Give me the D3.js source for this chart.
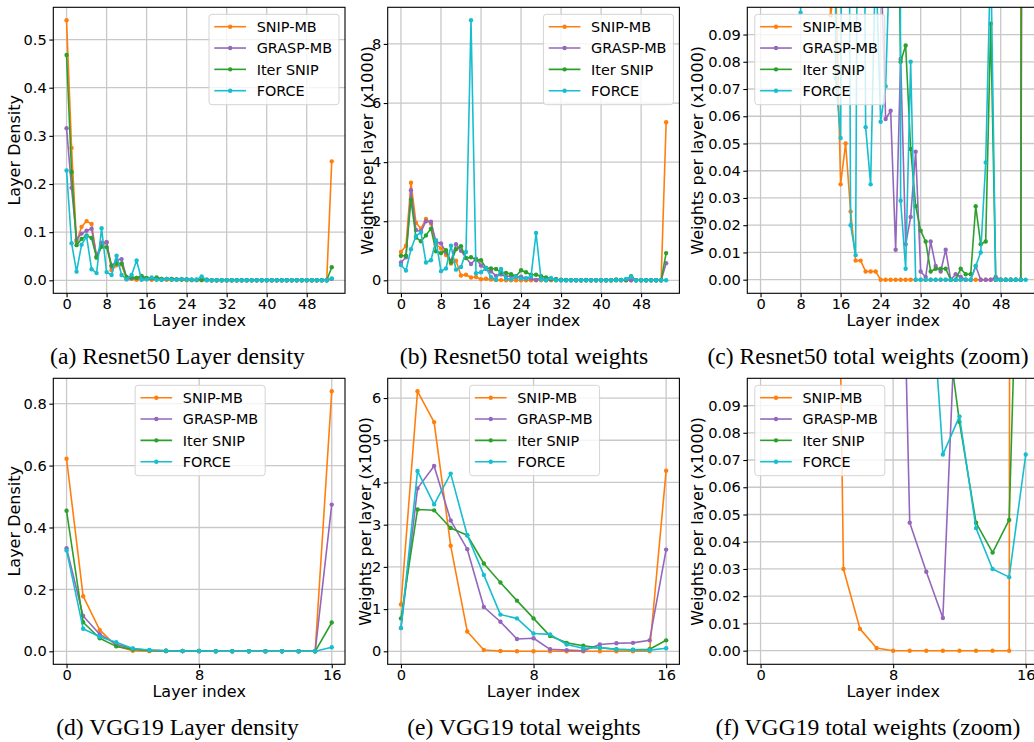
<!DOCTYPE html>
<html><head><meta charset="utf-8">
<script src="https://cdn.jsdelivr.net/npm/d3@7"></script>
<style>
body{margin:0;background:#fff}
svg{display:block}
text{font-family:"DejaVu Sans",sans-serif;fill:#000}
.cap{font-family:"Liberation Serif","Times New Roman",serif}
</style>
</head><body>
<svg id="chart" width="1034" height="742"></svg>
<script>
// ---------------- data ----------------
const methods = ["SNIP-MB", "GRASP-MB", "Iter SNIP", "FORCE"];
const methodColors = ["#ff7f0e", "#9467bd", "#2ca02c", "#17becf"];

// Resnet50 layer density (layers 0..53)
const resDensitySnip = [0.540,0.275,0.080,0.111,0.123,0.117,0.048,0.070,0.079,0.021,
  0.031,0.033,0.002,0.003,0.001,0.003,0.002,0.001,0.002,0.001,
  0.001,0.001,0.001,0.001,0,0,0,0,0,0,
  0,0,0,0,0,0,0,0,0,0,
  0,0,0,0,0,0,0,0,0,0,
  0,0,0,0.247];
const resDensityGrasp = [0.316,0.192,0.084,0.097,0.103,0.107,0.050,0.078,0.079,0.028,
  0.042,0.044,0.005,0.004,0.005,0.006,0.004,0.004,0.004,0.003,
  0.003,0.003,0.002,0.002,0.002,0.001,0.001,0.001,0.001,0,
  0,0,0,0,0,0,0,0,0,0,
  0,0,0,0,0,0,0,0,0,0,
  0,0,0,0.003];
const resDensityIter = [0.468,0.225,0.073,0.086,0.093,0.088,0.047,0.070,0.069,0.031,
  0.035,0.035,0.007,0.006,0.005,0.009,0.005,0.004,0.006,0.003,
  0.003,0.003,0.002,0.002,0.002,0.001,0.001,0.001,0.001,0,
  0,0,0,0,0,0,0,0,0,0,
  0,0,0,0,0,0,0,0,0,0,
  0,0,0,0.027];
const resDensityForce = [0.228,0.077,0.018,0.074,0.091,0.023,0.015,0.108,0.017,0.011,
  0.051,0.011,0.002,0.011,0.041,0.001,0.002,0.006,0.001,0.001,
  0.003,0.001,0.001,0.003,0.001,0.001,0.001,0.008,0,0,
  0,0,0,0,0,0,0,0,0,0,
  0,0,0,0,0,0,0,0,0,0,
  0,0,0,0.004];

// Resnet50 weights per layer (x1000), panel (b)
const resWeightsSnip = [0.96,1.17,3.30,1.95,1.75,2.08,1.92,1.22,1.08,0.86,
  0.57,0.66,0.16,0.19,0.097,0.11,0.035,0.050,0.025,0.007,
  0.007,0.003,0.003,0.003,0,0,0,0,0,0,
  0,0,0,0,0,0,0,0,0,0,
  0,0,0,0,0,0,0,0,0,0,
  0,0,0,5.35];
const resWeightsGrasp = [0.60,0.78,3.05,1.70,1.65,2.00,1.98,1.30,1.25,0.95,
  0.65,1.22,1.00,0.76,0.55,0.73,0.50,0.38,0.30,0.15,
  0.20,0.12,0.15,0.11,0.12,0.059,0.062,0.011,0.081,0.013,
  0.023,0.047,0.003,0.001,0.014,0.005,0.003,0.011,0,0.002,
  0.001,0,0,0.005,0,0,0,0.001,0,0,
  0,0,0,0.58];
const resWeightsIter = [0.83,0.83,2.73,1.45,1.32,1.52,1.75,0.98,0.92,1.02,
  0.60,1.05,1.15,0.75,0.78,0.70,0.68,0.42,0.40,0.38,
  0.27,0.25,0.21,0.14,0.34,0.27,0.19,0.19,0.14,0.10,
  0.048,0.027,0.018,0.014,0.003,0.004,0.004,0.004,0,0,
  0.004,0.002,0.002,0.027,0.013,0.014,0.14,0,0,0,
  0,0,0,0.92];
const resWeightsForce = [0.52,0.33,1.05,1.50,1.62,0.60,0.68,1.36,0.31,0.40,
  1.17,0.36,0.45,0.96,8.80,0.24,0.27,0.42,0.11,0.02,
  0.38,0.056,0.035,0.12,0.058,0.071,0.13,1.60,0.029,0.004,
  0.080,0,0,0,0,0,0,0,0,0,
  0,0,0,0.005,0.010,0.043,0.12,0,0,0,
  0,0,0,0];

// Resnet50 weights per layer (x1000) as read in the zoomed panel (c)
const resZoomIter = [0.83,0.83,2.73,1.45,1.32,1.52,1.75,0.98,0.92,1.02,
  0.60,1.05,1.15,0.75,0.78,0.70,0.68,0.42,0.40,0.38,
  0.27,0.25,0.21,0.14,0.34,0.27,0.19,0.19,0.080,0.086,
  0.048,0.027,0.018,0.014,0.003,0.004,0.004,0.004,0,0,
  0.004,0.002,0.002,0.027,0.013,0.014,0.094,0,0,0,
  0,0,0,0.92];
const resZoomForce = [0.52,0.33,1.05,1.50,1.62,0.60,0.68,1.36,0.098,0.40,
  1.17,0.36,0.45,0.96,8.80,0.074,0.052,0.42,0.020,0.009,
  0.38,0.056,0.035,0.12,0.058,0.071,0.13,1.60,0.029,0.004,
  0.080,0,0,0,0,0,0,0,0,0,
  0,0,0,0.005,0.010,0.043,0.12,0,0,0,
  0,0,0,0];

// VGG19 layer density (layers 0..16)
const vggDensitySnip  = [0.622,0.178,0.069,0.017,0.002,0.0005,0,0,0,0,0,0,0,0,0,0,0.840];
const vggDensityGrasp = [0.333,0.114,0.055,0.023,0.008,0.003,0.002,0.001,0.001,0,0,0,0,0,0,0,0.474];
const vggDensityIter  = [0.454,0.094,0.042,0.016,0.006,0.003,0.002,0.001,0.001,0,0,0,0,0,0,0,0.093];
const vggDensityForce = [0.326,0.073,0.047,0.029,0.009,0.004,0.002,0.001,0.001,0,0,0,0,0,0,0,0.013];

// VGG19 weights per layer (x1000)
const vggWeightsSnip  = [1.11,6.16,5.43,2.50,0.47,0.030,0.008,0.001,0,0,0,0,0,0,0,0,4.28];
const vggWeightsGrasp = [0.55,3.86,4.39,3.10,2.42,1.05,0.70,0.29,0.31,0.047,0.029,0.012,0.16,0.19,0.20,0.26,2.41];
const vggWeightsIter  = [0.78,3.36,3.34,2.92,2.75,2.08,1.63,1.20,0.78,0.36,0.20,0.13,0.084,0.047,0.036,0.048,0.26];
const vggWeightsForce = [0.55,4.27,3.48,4.21,2.75,1.81,0.87,0.78,0.42,0.40,0.16,0.072,0.086,0.045,0.030,0.027,0.072];

// ticks
const resXTicks = [0, 8, 16, 24, 32, 40, 48];
const vggXTicks = [0, 8, 16];
const resDensityYTicks = [0, 0.1, 0.2, 0.3, 0.4, 0.5];
const resWeightsYTicks = [0, 2, 4, 6, 8];
const zoomYTicks = [0, 0.01, 0.02, 0.03, 0.04, 0.05, 0.06, 0.07, 0.08, 0.09];
const vggDensityYTicks = [0, 0.2, 0.4, 0.6, 0.8];
const vggWeightsYTicks = [0, 1, 2, 3, 4, 5, 6];
const zoomYLimits = [-0.005, 0.1];

const captions = ["(a) Resnet50 Layer density", "(b) Resnet50 total weights", "(c) Resnet50 total weights (zoom)",
                  "(d) VGG19 Layer density", "(e) VGG19 total weights", "(f) VGG19 total weights (zoom)"];
const xLabel = "Layer index";
const yLabelDensity = "Layer Density";
const yLabelWeights = "Weights per layer (x1000)";

// ---------------- layout ----------------
const svg = d3.select("#chart");
const W = 291.7, H = 286;
const colLeft = [53.3, 387.7, 747.3];
const rowTop = [7.3, 378.3];
const capCenter = [177.5, 524, 868];

function autoDomain(lo, hi) { const m = (hi - lo) * 0.05; return [lo - m, hi + m]; }
function dataDomain(series) {
  const all = series.flat();
  return autoDomain(d3.min(all), d3.max(all));
}

const panels = [
  {row:0,col:0,series:[resDensitySnip,resDensityGrasp,resDensityIter,resDensityForce],yTicks:resDensityYTicks,yFmt:".1f",xTicks:resXTicks,yLabel:yLabelDensity,yLabelOff:-33.8,legend:"right",cap:captions[0]},
  {row:0,col:1,series:[resWeightsSnip,resWeightsGrasp,resWeightsIter,resWeightsForce],yTicks:resWeightsYTicks,yFmt:"d",xTicks:resXTicks,yLabel:yLabelWeights,yLabelOff:-15,legend:"right",cap:captions[1]},
  {row:0,col:2,series:[resWeightsSnip,resWeightsGrasp,resZoomIter,resZoomForce],yTicks:zoomYTicks,yFmt:".2f",xTicks:resXTicks,yLabel:yLabelWeights,yLabelOff:-44.5,legend:"left",cap:captions[2],yDomain:zoomYLimits},
  {row:1,col:0,series:[vggDensitySnip,vggDensityGrasp,vggDensityIter,vggDensityForce],yTicks:vggDensityYTicks,yFmt:".1f",xTicks:vggXTicks,yLabel:yLabelDensity,yLabelOff:-33.8,legend:"center",cap:captions[3]},
  {row:1,col:1,series:[vggWeightsSnip,vggWeightsGrasp,vggWeightsIter,vggWeightsForce],yTicks:vggWeightsYTicks,yFmt:"d",xTicks:vggXTicks,yLabel:yLabelWeights,yLabelOff:-17,legend:"center",cap:captions[4]},
  {row:1,col:2,series:[vggWeightsSnip,vggWeightsGrasp,vggWeightsIter,vggWeightsForce],yTicks:zoomYTicks,yFmt:".2f",xTicks:vggXTicks,yLabel:yLabelWeights,yLabelOff:-44.5,legend:"left",cap:captions[5],yDomain:zoomYLimits}
];

panels.forEach((p, pi) => {
  const left = colLeft[p.col], top = rowTop[p.row];
  const n = p.series[0].length;
  const x = d3.scaleLinear().domain(autoDomain(0, n - 1)).range([0, W]);
  const y = d3.scaleLinear().domain(p.yDomain || dataDomain(p.series)).range([H, 0]);
  const g = svg.append("g").attr("transform", `translate(${left},${top})`);

  const clipId = "clip" + pi;
  g.append("clipPath").attr("id", clipId).append("rect").attr("x", 0).attr("y", 0).attr("width", W).attr("height", H);

  // grid
  const grid = g.append("g").attr("clip-path", `url(#${clipId})`);
  grid.selectAll("line.gx").data(p.xTicks).join("line")
    .attr("x1", d => x(d)).attr("x2", d => x(d)).attr("y1", 0).attr("y2", H)
    .attr("stroke", "#c8c8c8").attr("stroke-width", 1.3);
  grid.selectAll("line.gy").data(p.yTicks).join("line")
    .attr("y1", d => y(d)).attr("y2", d => y(d)).attr("x1", 0).attr("x2", W)
    .attr("stroke", "#c8c8c8").attr("stroke-width", 1.3);

  // series
  const plot = g.append("g").attr("clip-path", `url(#${clipId})`);
  const line = d3.line().x((d, i) => x(i)).y(d => y(d));
  p.series.forEach((vals, si) => {
    const s = plot.append("g");
    s.append("path").datum(vals).attr("d", line).attr("fill", "none")
      .attr("stroke", methodColors[si]).attr("stroke-width", 1.6).attr("stroke-linejoin", "round");
    s.selectAll("circle").data(vals).join("circle")
      .attr("cx", (d, i) => x(i)).attr("cy", d => y(d)).attr("r", 2.2)
      .attr("fill", methodColors[si]);
  });

  // axes
  const fmt = d3.format(p.yFmt);
  const xa = g.append("g").attr("transform", `translate(0,${H})`)
    .call(d3.axisBottom(x).tickValues(p.xTicks).tickFormat(d3.format("d")).tickSize(4).tickPadding(1.5));
  const ya = g.append("g")
    .call(d3.axisLeft(y).tickValues(p.yTicks).tickFormat(fmt).tickSize(4).tickPadding(2.5));
  [xa, ya].forEach(a => {
    a.select(".domain").remove();
    a.selectAll(".tick line").attr("stroke", "#000").attr("stroke-width", 1.1);
    a.selectAll(".tick text").attr("font-family", "DejaVu Sans").attr("font-size", 14.6).attr("fill", "#000");
  });

  // frame
  g.append("rect").attr("x", 0).attr("y", 0).attr("width", W).attr("height", H)
    .attr("fill", "none").attr("stroke", "#000").attr("stroke-width", 1.1);

  // labels
  g.append("text").attr("x", W / 2).attr("y", H + 32.7).attr("text-anchor", "middle")
    .attr("font-size", 16).text(xLabel);
  g.append("text").attr("transform", `translate(${p.yLabelOff},${H / 2}) rotate(-90)`)
    .attr("text-anchor", "middle").attr("font-size", 16).text(p.yLabel);

  // legend
  const lw = 130, lh = 90.4;
  const lx = p.legend === "right" ? W - 6 - lw : (p.legend === "center" ? (W - lw) / 2 + 1 : 7.5);
  const lg = g.append("g").attr("transform", `translate(${lx},7)`);
  lg.append("rect").attr("width", lw).attr("height", lh).attr("rx", 3)
    .attr("fill", "#fff").attr("fill-opacity", 0.8).attr("stroke", "#d4d4d4").attr("stroke-width", 1);
  methods.forEach((m, i) => {
    const cy = 12.4 + 21.33 * i;
    lg.append("line").attr("x1", 5.3).attr("x2", 37).attr("y1", cy).attr("y2", cy)
      .attr("stroke", methodColors[i]).attr("stroke-width", 1.6);
    lg.append("circle").attr("cx", 21.2).attr("cy", cy).attr("r", 2.2).attr("fill", methodColors[i]);
    lg.append("text").attr("x", 47.7).attr("y", cy + 5.2).attr("font-size", 14.4).text(m);
  });

  // caption
  svg.append("text").attr("class", "cap").attr("x", capCenter[p.col]).attr("y", top + H + 71)
    .attr("text-anchor", "middle").attr("font-size", 23.6).text(p.cap);
});
</script>
</body></html>
